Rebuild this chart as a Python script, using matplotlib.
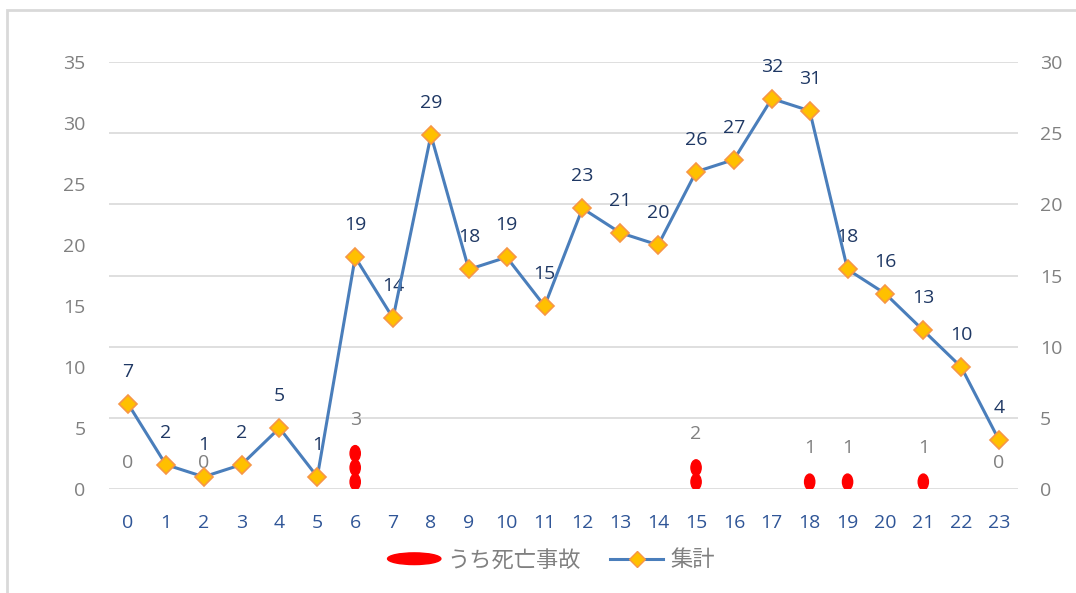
import matplotlib.pyplot as plt
from matplotlib.patches import Ellipse, Rectangle
from matplotlib.lines import Line2D
from matplotlib.legend_handler import HandlerPatch

plt.rcParams['font.family'] = ['Open Sans', 'Noto Sans CJK JP', 'DejaVu Sans']

hours = list(range(24))
total = [7, 2, 1, 2, 5, 1, 19, 14, 29, 18, 19, 15, 23, 21, 20, 26, 27, 32, 31, 18, 16, 13, 10, 4]
fatal = [0, 0, 0, 0, 0, 0, 3, 0, 0, 0, 0, 0, 0, 0, 0, 2, 0, 0, 1, 1, 0, 1, 0, 0]
fatal_label_hours = [0, 2, 6, 15, 18, 19, 21, 23]

GRAY = '#808080'
GRID = '#d9d9d9'
BLUE = '#4a7ebb'
NAVY = '#1f3864'
TICK_BLUE = '#2f5597'

fig = plt.figure(figsize=(10.76, 5.93), dpi=100)
# chart frame (only left and top edges are inside the picture)
fig.patches.append(Rectangle((7 / 1076, -0.05), 1.2, (593 - 10) / 593 + 0.05,
                             transform=fig.transFigure, fill=False,
                             edgecolor=GRID, linewidth=2))

ax = fig.add_axes([109 / 1076, 104 / 593, 909 / 1076, 427 / 593])
ax2 = ax.twinx()

# right axis 0-30 carries the gridlines
ax2.set_ylim(0, 30)
ax2.set_yticks(range(0, 31, 5))
ax2.yaxis.grid(True, color=GRID, linewidth=1.2)
ax2.set_axisbelow(True)

ax.set_ylim(0, 35)
ax.set_yticks(range(0, 36, 5))
ax.set_xlim(-0.5, 23.5)
ax.set_xticks(hours)

for a in (ax, ax2):
    for s in a.spines.values():
        s.set_visible(False)
    a.tick_params(length=0, labelsize=14, labelcolor=GRAY)
ax.tick_params(axis='y', pad=17)
ax2.tick_params(axis='y', pad=16)
ax.tick_params(axis='x', labelcolor=TICK_BLUE, pad=18)

# fatal accidents: one red ellipse per case, stacked on the right axis
for h, v in zip(hours, fatal):
    for k in range(v):
        ax2.add_patch(Ellipse((h, k + 0.5), 0.27, 1.1, color='#ff0000', zorder=3))
for h in fatal_label_hours:
    ax2.annotate(str(fatal[h]), (h, fatal[h]), xytext=(0, 19), textcoords='offset points',
                 ha='center', va='center', fontsize=14, color=GRAY)

# totals on the left axis, drawn above the right axis
ax.set_zorder(ax2.get_zorder() + 1)
ax.patch.set_visible(False)
ax.plot(hours, total, color=BLUE, linewidth=2.2, marker='D', markersize=9,
        markerfacecolor='#ffc000', markeredgecolor='#f79646', markeredgewidth=1.2, zorder=4)
for h, v in zip(hours, total):
    ax.annotate(str(v), (h, v), xytext=(0, 23), textcoords='offset points',
                ha='center', va='center', fontsize=14, color=NAVY)


class HandlerEllipse(HandlerPatch):
    def create_artists(self, legend, orig_handle, xdescent, ydescent, width, height, fontsize, trans):
        e = Ellipse((width / 2 - xdescent, height / 2 - ydescent), width, height * 0.75)
        self.update_prop(e, orig_handle, legend)
        e.set_transform(trans)
        return [e]


h_fatal = Ellipse((0, 0), 1, 1, color='#ff0000')
h_total = Line2D([], [], color=BLUE, linewidth=2.2, marker='D', markersize=8,
                 markerfacecolor='#ffc000', markeredgecolor='#f79646')
fig.legend([h_fatal, h_total], ['うち死亡事故', '集計'], loc='center',
           bbox_to_anchor=(551 / 1076, 1 - 561 / 593), ncol=2, frameon=False,
           fontsize=16, labelcolor=GRAY, handlelength=2.4, handletextpad=0.3,
           columnspacing=1.3, handler_map={Ellipse: HandlerEllipse()})

fig.savefig('out.png', dpi=100)
